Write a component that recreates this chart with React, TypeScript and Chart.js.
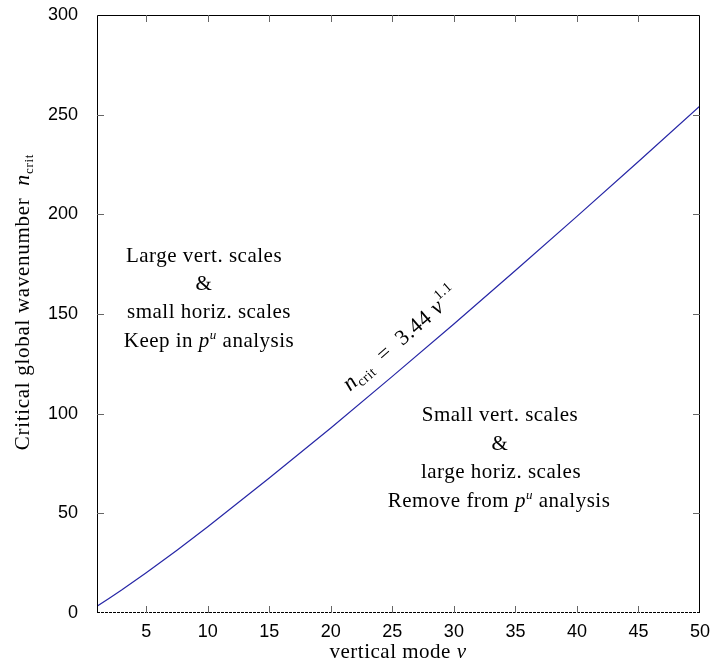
import React, { useEffect, useRef } from "react";
import { Chart, registerables } from "chart.js";

Chart.register(...registerables);

// vertical mode ν and critical global wavenumber n_crit
const modeNu = [1, 2, 3, 5, 7.5, 10, 15, 20, 25, 30, 35, 40, 45, 50];
const nCrit = [3.4, 7.4, 11.5, 20.2, 31.5, 43.3, 67.7, 92.8, 118.7, 145.0, 171.8, 199.0, 226.5, 254.4];
const xTicks = [5, 10, 15, 20, 25, 30, 35, 40, 45, 50];
const yTicks = [0, 50, 100, 150, 200, 250, 300];

const leftNote = ["Large vert. scales", "&", "small horiz. scales", "Keep in |p|u| analysis"];
const rightNote = ["Small vert. scales", "&", "large horiz. scales", "Remove from |p|u| analysis"];

const SERIF = '"Liberation Serif", "Times New Roman", serif';
const SANS = '"Liberation Sans", Arial, sans-serif';
const LS = "0.5px";
const FS = 21;

type Seg = { t: string; f: string; dy?: number };

function drawRich(ctx: CanvasRenderingContext2D, segs: Seg[], x: number, y: number, align: "center" | "left", ls: string = LS) {
  (ctx as any).letterSpacing = ls;
  let total = 0;
  const ws = segs.map((s) => {
    ctx.font = s.f;
    const w = ctx.measureText(s.t).width;
    total += w;
    return w;
  });
  let cx = align === "center" ? x - total / 2 : x;
  ctx.textAlign = "left";
  ctx.textBaseline = "alphabetic";
  segs.forEach((s, i) => {
    ctx.font = s.f;
    ctx.fillText(s.t, cx, y + (s.dy || 0));
    cx += ws[i];
  });
  return total;
}

function noteSegs(line: string): Seg[] {
  const f = `${FS}px ${SERIF}`;
  if (line.includes("|")) {
    const [a, p, u, b] = line.split("|");
    return [
      { t: a, f },
      { t: p, f: `italic ${FS}px ${SERIF}` },
      { t: u, f: `italic 13px ${SERIF}`, dy: -8 },
      { t: b, f },
    ];
  }
  return [{ t: line, f }];
}

const overlay = {
  id: "overlay",
  afterDraw(chart: any) {
    const { ctx, chartArea: a, scales } = chart;
    const x = scales.x;
    const y = scales.y;
    ctx.save();
    // frame
    ctx.lineWidth = 1;
    ctx.strokeStyle = "#000";
    ctx.beginPath();
    ctx.moveTo(Math.round(a.left) + 0.5, a.bottom);
    ctx.lineTo(Math.round(a.left) + 0.5, Math.round(a.top) + 0.5);
    ctx.lineTo(Math.round(a.right) - 0.5, Math.round(a.top) + 0.5);
    ctx.lineTo(Math.round(a.right) - 0.5, a.bottom);
    ctx.stroke();
    ctx.setLineDash([3, 1]);
    ctx.beginPath();
    ctx.moveTo(a.left, Math.round(a.bottom) - 0.5);
    ctx.lineTo(a.right, Math.round(a.bottom) - 0.5);
    ctx.stroke();
    ctx.setLineDash([]);
    // inward ticks
    ctx.strokeStyle = "#666";
    ctx.beginPath();
    xTicks.forEach((v) => {
      const px = Math.round(x.getPixelForValue(v)) + 0.5;
      if (v >= 50) return;
      ctx.moveTo(px, a.bottom);
      ctx.lineTo(px, a.bottom - 7);
      ctx.moveTo(px, a.top);
      ctx.lineTo(px, a.top + 7);
    });
    yTicks.forEach((v) => {
      if (v <= 0 || v >= 300) return;
      const py = Math.round(y.getPixelForValue(v)) + 0.5;
      ctx.moveTo(a.left, py);
      ctx.lineTo(a.left + 7, py);
      ctx.moveTo(a.right, py);
      ctx.lineTo(a.right - 7, py);
    });
    ctx.stroke();

    ctx.fillStyle = "#000";
    // notes
    const lc = [204, 204, 209, 209];
    const lb = [262, 290, 318, 347];
    leftNote.forEach((l, i) => drawRich(ctx, noteSegs(l), lc[i], lb[i], "center"));
    const rc = [500, 500, 501, 499];
    const rb = [421, 450, 478, 507];
    rightNote.forEach((l, i) => drawRich(ctx, noteSegs(l), rc[i], rb[i], "center"));

    // x title
    drawRich(
      ctx,
      [
        { t: "vertical mode ", f: `${FS}px ${SERIF}` },
        { t: "ν", f: `italic ${FS}px ${SERIF}` },
      ],
      398,
      658,
      "center"
    );

    // y title
    ctx.save();
    ctx.translate(29, 302);
    ctx.rotate(-Math.PI / 2);
    drawRich(
      ctx,
      [
        { t: "Critical global wavenumber  ", f: `${FS}px ${SERIF}` },
        { t: "n", f: `italic 22px ${SERIF}` },
        { t: "crit", f: `13px ${SERIF}`, dy: 4 },
      ],
      0,
      0,
      "center",
      "0.7px"
    );
    ctx.restore();

    // formula along the curve
    ctx.save();
    ctx.translate(405, 344);
    ctx.rotate((-41 * Math.PI) / 180);
    drawRich(
      ctx,
      [
        { t: "n", f: `italic 23px ${SERIF}` },
        { t: "crit", f: `14px ${SERIF}`, dy: 4 },
        { t: "  =  3.44 ", f: `22px ${SERIF}` },
        { t: "ν", f: `italic 23px ${SERIF}` },
        { t: "1.1", f: `14px ${SERIF}`, dy: -11 },
      ],
      0,
      0,
      "center"
    );
    ctx.restore();

    ctx.restore();
  },
};

export default function App() {
  const ref = useRef<HTMLCanvasElement | null>(null);
  useEffect(() => {
    if (!ref.current) return;
    const chart = new Chart(ref.current, {
      type: "line",
      data: {
        datasets: [
          {
            data: modeNu.map((v, i) => ({ x: v, y: nCrit[i] })),
            borderColor: "#2626a6",
            borderWidth: 1.2,
            pointRadius: 0,
            tension: 0,
            fill: false,
          },
        ],
      },
      options: {
        animation: false,
        responsive: true,
        maintainAspectRatio: false,
        layout: { padding: { top: 15, right: 10, left: 0, bottom: 0 } },
        plugins: { legend: { display: false }, tooltip: { enabled: false } },
        scales: {
          x: {
            type: "linear",
            min: 1,
            max: 50,
            grid: { display: false, drawTicks: false },
            border: { display: false },
            afterBuildTicks: (s: any) => {
              s.ticks = xTicks.map((v) => ({ value: v }));
            },
            afterFit: (s: any) => {
              s.height = 51;
              s.paddingLeft = 0;
              s.paddingRight = 0;
            },
            ticks: {
              padding: 8,
              color: "#000",
              font: { family: SANS, size: 18 },
              maxRotation: 0,
              autoSkip: false,
            },
          },
          y: {
            type: "linear",
            min: 0,
            max: 300,
            grid: { display: false, drawTicks: false },
            border: { display: false },
            afterBuildTicks: (s: any) => {
              s.ticks = yTicks.map((v) => ({ value: v }));
            },
            afterFit: (s: any) => {
              s.width = 97;
              s.paddingTop = 0;
              s.paddingBottom = 0;
            },
            ticks: {
              padding: 19,
              color: "#000",
              font: { family: SANS, size: 18 },
              autoSkip: false,
            },
          },
        },
      },
      plugins: [overlay],
    });
    return () => chart.destroy();
  }, []);
  return (
    <div style={{ position: "absolute", left: 0, top: 0, width: 710, height: 664, background: "#fff" }}>
      <canvas ref={ref} />
    </div>
  );
}
